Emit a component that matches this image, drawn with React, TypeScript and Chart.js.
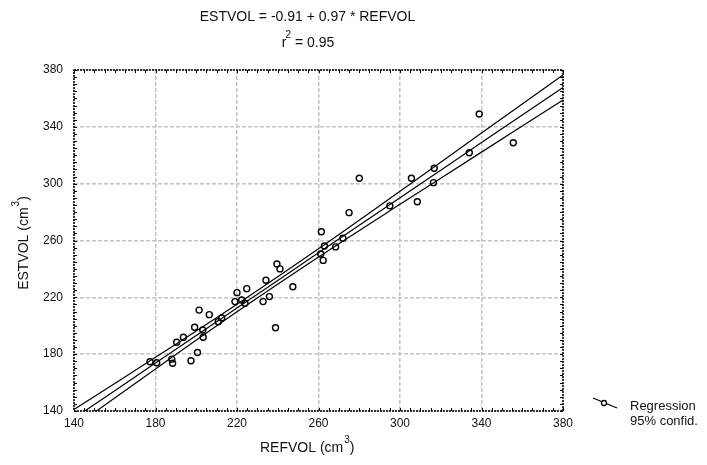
import React, { useEffect, useRef } from "react";
import { Chart, registerables } from "chart.js";
Chart.register(...registerables);

// Observed data (REFVOL vs ESTVOL, cm^3)
const refVol = [
  180.6, 188.4, 188.0, 197.4, 200.6, 190.4, 193.7, 199.2, 203.2, 203.4,
  238.9, 210.8, 201.4, 206.4, 219.0, 222.3, 223.9, 220.0, 224.8, 234.2,
  235.9, 232.8, 239.6, 241.1, 247.4, 261.4, 262.9, 261.1, 262.3, 268.4,
  275.0, 280.0, 295.0, 308.5, 305.6, 316.8, 316.4, 338.9, 355.6, 334.0,
  272.0, 212.5, 177.3,
];
const estVol = [
  174.0, 173.6, 176.5, 175.4, 181.2, 188.4, 191.9, 198.9, 197.0, 191.9,
  198.6, 202.9, 211.0, 207.8, 217.0, 218.1, 215.8, 223.3, 226.1, 232.0,
  220.5, 217.0, 243.5, 240.0, 227.5, 266.2, 256.1, 250.5, 246.0, 255.5,
  279.6, 303.8, 284.4, 287.3, 303.8, 310.8, 300.7, 349.0, 328.8, 321.8,
  261.6, 205.5, 174.7,
];

// Regression line and 95% confidence band (read at the grid positions)
const bandX = [140, 180, 220, 260, 300, 340, 380];
const fitY = [134.9, 173.7, 212.5, 251.3, 290.1, 328.9, 367.7];
const upperY = [141.1, 177.8, 215.2, 254.2, 294.7, 335.6, 376.5];
const lowerY = [128.7, 169.6, 209.8, 248.4, 285.5, 322.2, 358.9];

const axisMin = 140;
const axisMax = 380;
const axisStep = 40;
const minorStep = 5;

const titleLine1 = "ESTVOL = -0.91 + 0.97 * REFVOL";
const titleR = "r";
const titleRSup = "2";
const titleRRest = " = 0.95";
const xTitle = "REFVOL (cm";
const yTitle = "ESTVOL (cm";
const unitSup = "3";
const legendLabels = ["Regression", "95% confid."];

const FONT = "'Liberation Sans', Arial, Helvetica, sans-serif";

const decorPlugin = {
  id: "decor",
  afterDraw(chart: any) {
    const { ctx, chartArea } = chart;
    const { left, right, top, bottom } = chartArea;
    const xs = chart.scales.x;
    const ys = chart.scales.y;
    ctx.save();
    // frame
    ctx.strokeStyle = "#000";
    ctx.lineWidth = 1.5;
    ctx.setLineDash([2, 1]);
    ctx.strokeRect(left, top, right - left, bottom - top);
    ctx.setLineDash([]);
    // minor ticks
    ctx.lineWidth = 1;
    ctx.beginPath();
    for (let v = axisMin; v <= axisMax; v += minorStep) {
      const px = Math.round(xs.getPixelForValue(v)) + 0.5;
      ctx.moveTo(px, bottom);
      ctx.lineTo(px, bottom - 3);
      ctx.moveTo(px, top);
      ctx.lineTo(px, top + 3);
      const py = Math.round(ys.getPixelForValue(v)) + 0.5;
      ctx.moveTo(left, py);
      ctx.lineTo(left + 3, py);
      ctx.moveTo(right, py);
      ctx.lineTo(right - 3, py);
    }
    ctx.stroke();

    ctx.fillStyle = "#111";
    ctx.textBaseline = "middle";
    const big = `14px ${FONT}`;
    const sup = `10px ${FONT}`;
    // title line 1
    ctx.font = big;
    ctx.textAlign = "center";
    ctx.fillText(titleLine1, 307.5, 17);
    // r^2 line
    ctx.font = big;
    const wR = ctx.measureText(titleR).width;
    const wRest = ctx.measureText(titleRRest).width;
    ctx.font = sup;
    const wS = ctx.measureText(titleRSup).width;
    const x0 = 308.5 - (wR + wS + wRest) / 2;
    ctx.textAlign = "left";
    ctx.font = big;
    ctx.fillText(titleR, x0, 43);
    ctx.font = sup;
    ctx.fillText(titleRSup, x0 + wR - 1, 35);
    ctx.font = big;
    ctx.fillText(titleRRest, x0 + wR + wS - 1, 43);

    // x axis title
    ctx.font = big;
    const wX = ctx.measureText(xTitle).width;
    ctx.fillText(xTitle, 260, 448);
    ctx.font = sup;
    const wU = ctx.measureText(unitSup).width;
    ctx.fillText(unitSup, 260 + wX + 1, 440);
    ctx.font = big;
    ctx.fillText(")", 260 + wX + wU + 1, 448);

    // y axis title (rotated)
    ctx.save();
    ctx.font = big;
    const wY = ctx.measureText(yTitle).width;
    const wP = ctx.measureText(")").width;
    const total = wY + wU + 1 + wP;
    ctx.translate(24, 243 + total / 2);
    ctx.rotate(-Math.PI / 2);
    ctx.fillText(yTitle, 0, 0);
    ctx.font = sup;
    ctx.fillText(unitSup, wY + 1, -8);
    ctx.font = big;
    ctx.fillText(")", wY + wU + 1, 0);
    ctx.restore();

    // legend
    ctx.strokeStyle = "#000";
    ctx.lineWidth = 1.3;
    ctx.beginPath();
    ctx.moveTo(593, 398);
    ctx.lineTo(617, 408);
    ctx.stroke();
    ctx.fillStyle = "#fff";
    ctx.beginPath();
    ctx.arc(604, 403, 2.5, 0, Math.PI * 2);
    ctx.fill();
    ctx.stroke();
    ctx.fillStyle = "#111";
    ctx.font = `13px ${FONT}`;
    ctx.fillText(legendLabels[0], 630, 406);
    ctx.fillText(legendLabels[1], 630, 421);
    ctx.restore();
  },
};

export default function App() {
  const ref = useRef<HTMLCanvasElement | null>(null);
  useEffect(() => {
    if (!ref.current) return;
    const lineDs = (ys: number[]) => ({
      type: "line" as const,
      data: bandX.map((x, i) => ({ x, y: ys[i] })),
      borderColor: "#000",
      borderWidth: 1.2,
      pointRadius: 0,
      showLine: true,
      fill: false,
      tension: 0.3,
      order: 2,
    });
    const chart = new Chart(ref.current, {
      type: "scatter",
      data: {
        datasets: [
          lineDs(upperY),
          lineDs(fitY),
          lineDs(lowerY),
          {
            type: "scatter",
            data: refVol.map((x, i) => ({ x, y: estVol[i] })),
            pointRadius: 3,
            pointBorderWidth: 1.4,
            pointBorderColor: "#000",
            pointBackgroundColor: "rgba(255,255,255,0)",
            order: 1,
          } as any,
        ],
      },
      options: {
        animation: false,
        responsive: false,
        maintainAspectRatio: false,
        layout: { padding: { top: 70, right: 144, left: 0, bottom: 0 } },
        plugins: { legend: { display: false }, tooltip: { enabled: false }, title: { display: false } },
        scales: {
          x: {
            type: "linear",
            min: axisMin,
            max: axisMax,
            afterFit: (s: any) => { s.height = 54; },
            ticks: { stepSize: axisStep, padding: 5, color: "#111", font: { family: FONT, size: 12 }, maxRotation: 0 },
            grid: { color: "#c4c4c4", lineWidth: 1.5, drawTicks: false },
            border: { display: false, dash: [4, 2] },
          },
          y: {
            type: "linear",
            min: axisMin,
            max: axisMax,
            afterFit: (s: any) => { s.width = 74; },
            ticks: { stepSize: axisStep, padding: 11, color: "#111", font: { family: FONT, size: 12 } },
            grid: { color: "#c4c4c4", lineWidth: 1.5, drawTicks: false },
            border: { display: false, dash: [4, 2] },
          },
        },
      },
      plugins: [decorPlugin],
    } as any);
    return () => chart.destroy();
  }, []);
  return (
    <div style={{ position: "fixed", left: 0, top: 0, width: 707, height: 465, background: "#fff" }}>
      <canvas ref={ref} width={707} height={465} style={{ width: 707, height: 465, display: "block" }} />
    </div>
  );
}
